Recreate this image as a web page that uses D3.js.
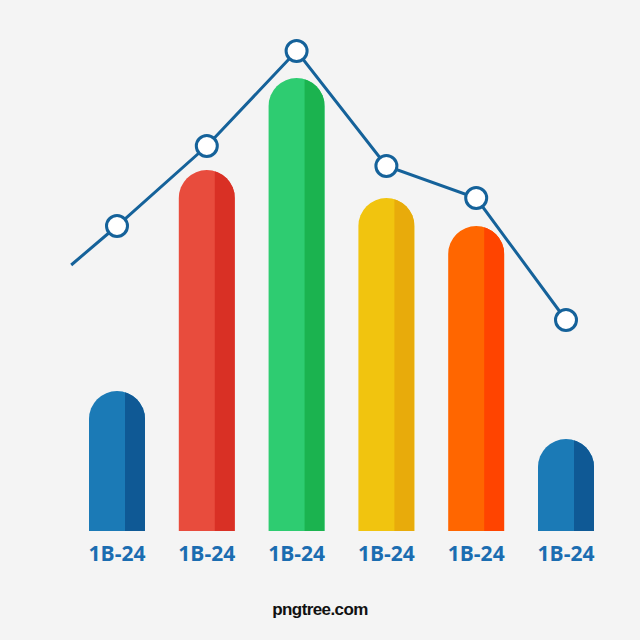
<!DOCTYPE html>
<html>
<head>
<meta charset="utf-8">
<script src="https://cdn.jsdelivr.net/npm/d3@7"></script>
<style>
  html, body { margin: 0; padding: 0; background: #f4f4f4; }
  svg { display: block; }
</style>
</head>
<body>
<script>
var width = 640,
    height = 640;

// data
var categories = ["1B-24", "1B-24", "1B-24", "1B-24", "1B-24", "1B-24"];
var barValues = [140, 361, 453, 333, 305, 92];
var lineValues = [266, 305, 385, 480, 365, 333, 211]; // first point starts half a step before the first bar
var lineIndex = [-0.51, 0, 1, 2, 3, 4, 5];
var lightColors = ["#1b7ab6", "#e84c3d", "#2ecc71", "#f1c40f", "#ff6600", "#1b7ab6"];
var darkColors = ["#0f5995", "#d93025", "#1bb34f", "#e8ab0b", "#ff4400", "#0f5995"];

var x = d3.scaleLinear().domain([0, 5]).range([117, 566]);
var y = d3.scaleLinear().domain([0, 500]).range([531, 31]);
var barW = 56,
    darkW = 20;

var svg = d3.select("body").append("svg")
    .attr("width", width)
    .attr("height", height);

svg.append("rect")
    .attr("width", width)
    .attr("height", height)
    .style("fill", "#f4f4f4");

// bar with a round top
function capPath(x0, w, top, bottom) {
  var r = w / 2;
  return "M" + x0 + "," + bottom +
    "V" + (top + r) +
    "A" + r + "," + r + " 0 0 1 " + (x0 + w) + "," + (top + r) +
    "V" + bottom + "Z";
}

var defs = svg.append("defs");

var bars = svg.selectAll(".bar")
    .data(barValues)
  .enter().append("g")
    .attr("class", "bar");

bars.each(function(d, i) {
  var g = d3.select(this);
  var x0 = x(i) - barW / 2;
  defs.append("clipPath")
      .attr("id", "clip" + i)
    .append("path")
      .attr("d", capPath(x0, barW, y(d), y(0)));
  g.append("path")
      .attr("d", capPath(x0, barW, y(d), y(0)))
      .style("fill", lightColors[i]);
  g.append("rect")
      .attr("clip-path", "url(#clip" + i + ")")
      .attr("x", x0 + barW - darkW)
      .attr("y", y(d) - 2)
      .attr("width", darkW)
      .attr("height", y(0) - y(d) + 2)
      .style("fill", darkColors[i]);
});

svg.selectAll(".label")
    .data(categories)
  .enter().append("text")
    .attr("class", "label")
    .attr("x", function(d, i) { return x(i); })
    .attr("y", 561)
    .attr("text-anchor", "middle")
    .style("font-family", "'Open Sans', 'DejaVu Sans', sans-serif")
    .style("font-weight", "bold")
    .style("font-size", "21px")
    .style("fill", "#1b6db1")
    .text(function(d) { return d; });

var points = lineIndex.map(function(d, i) { return [x(d), y(lineValues[i])]; });

svg.append("path")
    .attr("d", d3.line()(points))
    .style("fill", "none")
    .style("stroke", "#15629a")
    .style("stroke-width", 3);

svg.selectAll(".dot")
    .data(points.slice(1))
  .enter().append("circle")
    .attr("class", "dot")
    .attr("cx", function(d) { return d[0]; })
    .attr("cy", function(d) { return d[1]; })
    .attr("r", 10.5)
    .style("fill", "#ffffff")
    .style("stroke", "#15629a")
    .style("stroke-width", 3);

svg.append("text")
    .attr("x", 320)
    .attr("y", 615)
    .attr("text-anchor", "middle")
    .style("font-family", "'Liberation Sans', Arial, sans-serif")
    .style("font-weight", "bold")
    .style("font-size", "17px")
    .style("letter-spacing", "-0.6px")
    .style("fill", "#111")
    .text("pngtree.com");
</script>
</body>
</html>
